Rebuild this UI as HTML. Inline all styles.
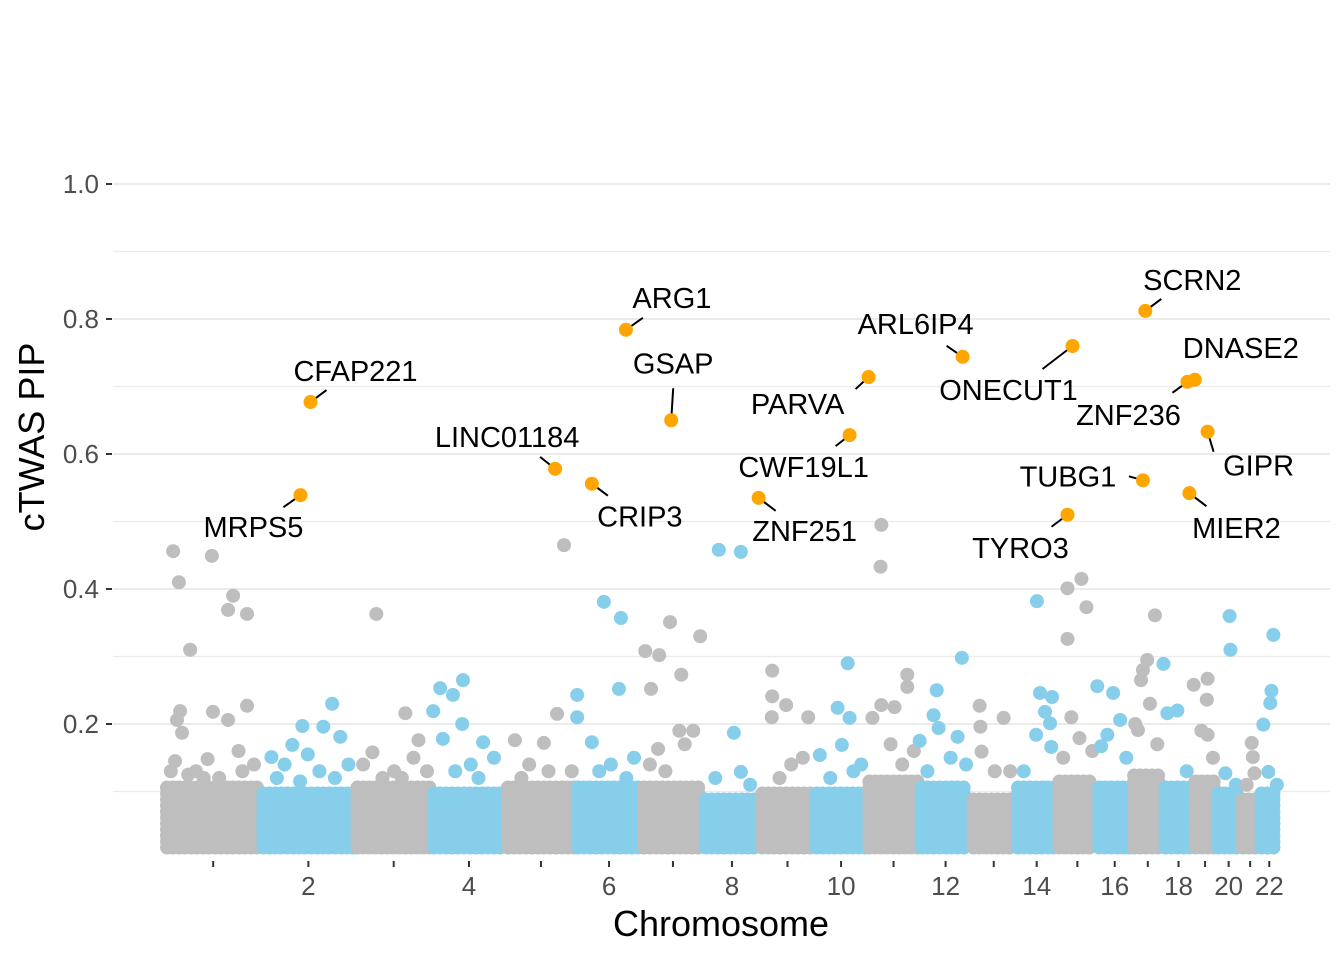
<!DOCTYPE html>
<html><head><meta charset="utf-8"><style>
html,body{margin:0;padding:0;background:#fff}
svg{display:block;font-family:"Liberation Sans",Arial,sans-serif}
</style></head><body>
<svg id="chart" width="1344" height="960" viewBox="0 0 1344 960"></svg>
<script>
// ---- data ----
const chrLengths = [249,243,198,191,181,171,159,146,141,136,135,134,115,107,103,90,81,78,59,63,48,51];
const bandTop = [0.11,0.10,0.11,0.10,0.11,0.11,0.11,0.09,0.10,0.10,0.12,0.11,0.09,0.11,0.12,0.11,0.13,0.11,0.12,0.10,0.09,0.10];
const yTicks = [0.2,0.4,0.6,0.8,1.0];
const yTickLabels = ["0.2","0.4","0.6","0.8","1.0"];
// notable background genes: [chr, posMb, pip]
const genes = [
[1,21,.456],[1,36,.410],[1,121,.449],[1,65,.310],[1,176,.390],[1,163,.369],[1,212,.363],[1,39,.219],[1,124,.218],[1,212,.227],[1,31,.206],[1,163,.206],[1,44,.187],[1,26,.145],[1,110,.148],[1,190,.16],[1,80,.13],[1,230,.14],[1,15,.13],[1,140,.12],[1,60,.125],[1,200,.13],[1,100,.12],
[2,183,.23],[2,106,.197],[2,160,.196],[2,80,.169],[2,26,.151],[2,204,.181],[2,150,.13],[2,60,.14],[2,225,.14],[2,120,.155],[2,190,.12],[2,40,.12],[2,100,.115],
[3,54,.363],[3,129,.216],[3,44,.158],[3,163,.176],[3,150,.15],[3,20,.14],[3,100,.13],[3,70,.12],[3,185,.13],[3,120,.12],
[4,80,.265],[4,21,.253],[4,54,.243],[4,78,.2],[4,3,.219],[4,132,.173],[4,28,.178],[4,100,.14],[4,160,.15],[4,60,.13],[4,120,.12],
[5,150,.465],[5,132,.215],[5,98,.172],[5,23,.176],[5,60,.14],[5,170,.13],[5,110,.13],[5,40,.12],
[6,72,.381],[6,116,.357],[6,111,.252],[6,3,.243],[6,3,.21],[6,41,.173],[6,150,.15],[6,90,.14],[6,60,.13],[6,130,.12],
[7,72,.351],[7,8,.308],[7,44,.302],[7,23,.252],[7,101,.273],[7,150,.330],[7,96,.19],[7,132,.19],[7,41,.163],[7,110,.17],[7,20,.14],[7,60,.13],
[8,39,.458],[8,96,.455],[8,78,.187],[8,96,.129],[8,30,.12],[8,120,.11],
[9,31,.279],[9,31,.241],[9,67,.228],[9,124,.21],[9,30,.21],[9,80,.14],[9,110,.15],[9,50,.12],
[10,85,.290],[10,59,.224],[10,90,.209],[10,70,.169],[10,13,.154],[10,120,.14],[10,100,.13],[10,40,.12],
[11,36,.495],[11,34,.433],[11,103,.273],[11,103,.255],[11,36,.228],[11,70,.225],[11,13,.209],[11,60,.17],[11,120,.16],[11,90,.14],
[12,109,.298],[12,44,.250],[12,36,.213],[12,49,.194],[12,98,.181],[12,0,.175],[12,80,.15],[12,120,.14],[12,20,.13],
[13,21,.227],[13,83,.209],[13,23,.196],[13,26,.159],[13,60,.13],[13,100,.13],
[14,54,.382],[14,62,.246],[14,93,.240],[14,75,.218],[14,88,.201],[14,52,.184],[14,91,.166],[14,20,.13],
[15,62,.415],[15,26,.401],[15,75,.373],[15,26,.326],[15,36,.21],[15,57,.179],[15,90,.16],[15,15,.15],
[16,0,.256],[16,41,.246],[16,59,.206],[16,26,.184],[16,10,.167],[16,75,.15],
[17,59,.361],[17,39,.295],[17,28,.28],[17,23,.265],[17,46,.23],[17,15,.191],[17,8,.2],[17,65,.17],
[18,0,.289],[18,10,.216],[18,36,.22],[18,60,.13],
[19,0,.258],[19,36,.267],[19,34,.236],[19,20,.19],[19,36,.184],[19,50,.15],
[20,34,.36],[20,36,.31],[20,23,.127],[20,50,.11],
[21,28,.172],[21,31,.151],[21,35,.127],[21,15,.11],
[22,36,.332],[22,31,.249],[22,28,.231],[22,10,.199],[22,23,.129],[22,45,.11]
];
// highlighted genes
const hiNames = ["CFAP221","MRPS5","LINC01184","CRIP3","ARG1","GSAP","ZNF251","PARVA","CWF19L1","ARL6IP4","ONECUT1","TYRO3","SCRN2","TUBG1","ZNF236","DNASE2","GIPR","MIER2"];
const hiChr = [2,2,5,6,6,7,8,11,10,12,15,15,17,17,18,19,19,18];
const hiPos = [127,101,127,41,129,75,142,3,90,111,39,26,34,28,62,3,36,67];
const hiPip = [0.677,0.539,0.578,0.556,0.784,0.650,0.535,0.714,0.628,0.744,0.760,0.510,0.812,0.561,0.707,0.710,0.633,0.542];

// ---- layout ----
const labelOff = [[45,-31],[-47,32],[-48,-32],[48,33],[46,-32],[2,-57],[46,33],[-71,27],[-46,32],[-47,-33],[-64,44],[-47,33],[47,-31],[-75,-4],[-59,33],[46,-32],[51,34],[47,35]];
const segEnd = [[16,-12],[-17,12],[-15,-12],[16,12],[17,-12],[2,-32],[17,13],[-13,12],[-14,11],[-16,-11],[-30,23],[-16,12],[16,-12],[-14,-4],[-15,11],[0,0],[6,20],[17,13]];

const svg = document.getElementById('chart');
const NS = 'http://www.w3.org/2000/svg';
function mk(tag, attrs, parent){const e=document.createElementNS(NS,tag);for(const k in attrs)e.setAttribute(k,attrs[k]);(parent||svg).appendChild(e);return e;}

const x0 = 165, pxPerMb = 0.387;
const cum = []; let c = 0; chrLengths.forEach(l=>{cum.push(c); c+=l;});
const xScale = (chr,pos)=> x0 + (cum[chr-1]+pos)*pxPerMb;
const yScale = v => 859 - v*675;
const colorFor = chr => chr%2===1 ? '#bebebe' : '#87ceeb';

for (let k=1; k<=10; k++){
  const v=k/10, major = k%2===0;
  const g = mk('line',{x1:113,x2:1330,y1:yScale(v),y2:yScale(v),stroke:'#ebebeb','stroke-width':major?2:1.2});
  
  
}
yTicks.forEach((v,i)=>{
  const t = mk('line',{x1:106,x2:112,y1:yScale(v),y2:yScale(v),stroke:'#333','stroke-width':2});
  
  
  const l = mk('text',{x:99,y:yScale(v)+9,'text-anchor':'end','font-size':26,fill:'#4d4d4d'});
  l.textContent = yTickLabels[i];
  
  
});
chrLengths.forEach((len,i)=>{
  const cx = xScale(i+1,len/2);
  const t = mk('line',{x1:cx,x2:cx,y1:861,y2:867,stroke:'#333','stroke-width':2});
  
  
  if ((i+1)%2===0){
    const l = mk('text',{x:cx,y:895,'text-anchor':'middle','font-size':26,fill:'#4d4d4d'});
    l.textContent = String(i+1);
    
    
  }
});

const gPts = mk('g',{});


chrLengths.forEach((len,i)=>{
  const chr=i+1, col=colorFor(chr);
  const xa = xScale(chr,0)+2, xb = xScale(chr,len)-2;
  const lo = 0.017;
  for (let y=yScale(lo); y>=yScale(bandTop[i]); y-=6){
    for (let x=xa; x<=xb; x+=6){
      const p = mk('circle',{cx:x,cy:y,r:7,fill:col},gPts);
      
      
    }
  }
  genes.filter(g=>g[0]===chr).forEach(g=>{
    const p = mk('circle',{cx:xScale(g[0],g[1]),cy:yScale(g[2]),r:7,fill:col},gPts);
    
    
  });
});

hiNames.forEach((n,i)=>{
  const px = xScale(hiChr[i],hiPos[i]), py = yScale(hiPip[i]);
  const s = segEnd[i];
  if (s[0]||s[1]){
    const ln = mk('line',{x1:px,y1:py,x2:px+s[0],y2:py+s[1],stroke:'#000','stroke-width':2});
    
    
  }
  const p = mk('circle',{cx:px,cy:py,r:7,fill:'#ffa500'});
  
  
  const t = mk('text',{x:px+labelOff[i][0],y:py+labelOff[i][1]+10,'text-anchor':'middle','font-size':29,fill:'#000'});
  t.textContent = n;
  
  
});

const xt = mk('text',{x:721,y:936,'text-anchor':'middle','font-size':36,fill:'#000'});
xt.textContent='Chromosome';


const yt = mk('text',{x:0,y:0,'text-anchor':'middle','font-size':36,fill:'#000',transform:'translate(44,437) rotate(-90)'});
yt.textContent='cTWAS PIP';


</script>
</body></html>
